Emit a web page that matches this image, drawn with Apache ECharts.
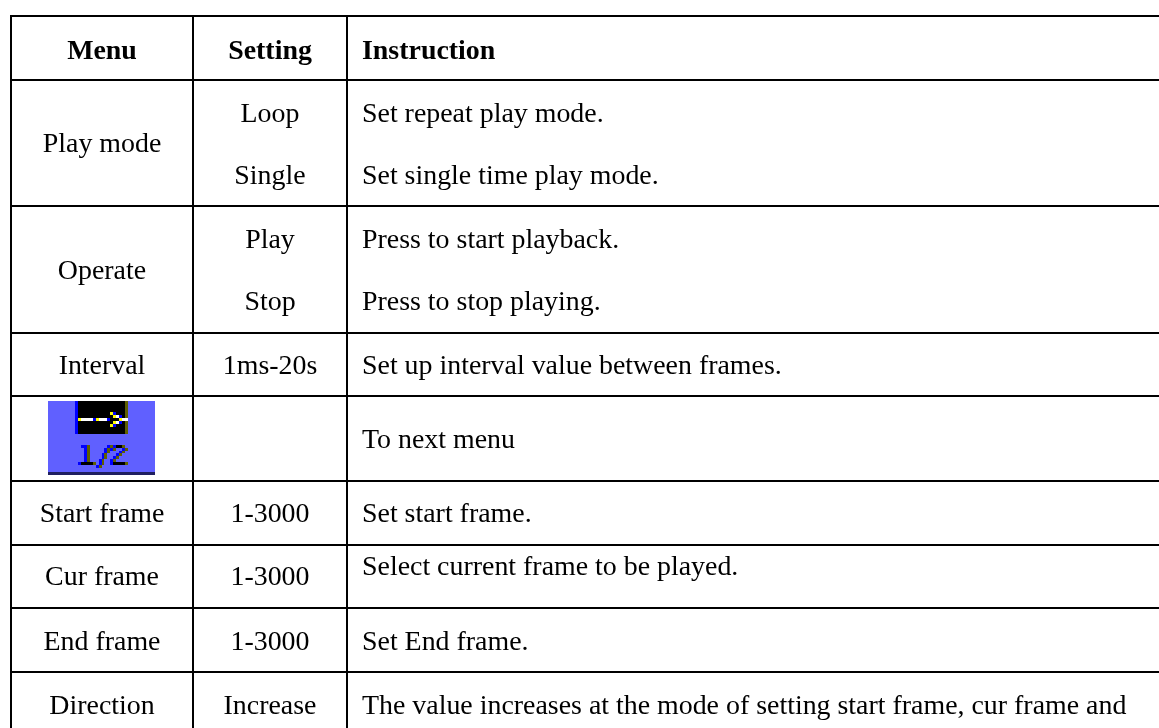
<!DOCTYPE html>
<html>
<head>
<meta charset="utf-8">
<title>Playback menu</title>
<style>
html,body{margin:0;padding:0;background:#fff;}
#main{width:1159px;height:728px;}
</style>
<script src="https://cdn.jsdelivr.net/npm/echarts@6/dist/echarts.min.js"></script>
</head>
<body>
<div id="main"></div>
<script>
var fontFamily='"Liberation Serif","Times New Roman",serif';
var fontSize=27.9;

// table text
var headerLabels=['Menu','Setting','Instruction'];
var menuLabels=['Play mode','Operate','Interval','Start frame','Cur frame','End frame','Direction'];
var settingLabels=['Loop','Single','Play','Stop','1ms-20s','1-3000','1-3000','1-3000','Increase'];
var instructionLabels=[
    'Set repeat play mode.',
    'Set single time play mode.',
    'Press to start playback.',
    'Press to stop playing.',
    'Set up interval value between frames.',
    'To next menu',
    'Set start frame.',
    'Select current frame to be played.',
    'Set End frame.',
    'The value increases at the mode of setting start frame, cur frame and'
];

// layout of the table, in page pixels
var headerX=[102,270,362];
var headerY=51.5;
var menuX=102;
var menuY=[145,271.5,366.5,515,578,643,707];
var settingX=270;
var settingY=[115,177,240.5,303,366.5,515,578,643,707];
var instructionX=362;
var instructionY=[115,177,240.5,303,366.5,440.5,515,568,643,707];
var ruleY=[15,79,205,332,395,480,544,607,671];
var ruleX=[10,192,346];

// the 1/2 menu button
var iconBox=[48,401,107,74];
var iconCell=[107/36,2.96];
var iconOrigin=[48,400.2];
var iconBlocks=[
    [75,401,53,33,'#000000'],
    [75,401,3,33,'#0000ff'],
    [125,401,3,33,'#5f5f00'],
    [48,472,107,3,'#1f1f5f']
];
var arrowRows=[
    '..........................',
    '.....................YB...',
    '......................YWB.',
    '..........YWWWWBYWWWB...YWW',
    '......................YWB.',
    '.....................YB...'
];
var digitRows=[
    '...........BBO......BOBKKO.',
    '............BO.....BOBO..BO',
    '............BO.....BO...BO.',
    '............BO....BO...BO..',
    '............BO....BO..BO...',
    '............BO...BO..BO....',
    '..........BKKKKO.BO..BKKKKO',
    '................BO.........'
];
var pixelColors={B:'#0000ff',O:'#5f5f00',K:'#000000',Y:'#ffff00',W:'#ffffff'};

function pixelsFrom(rows,firstRow){
    var out=[];
    for(var r=0;r<rows.length;r++){
        for(var c=0;c<rows[r].length;c++){
            var k=rows[r].charAt(c);
            if(pixelColors[k]){
                out.push([iconOrigin[0]+c*iconCell[0],iconOrigin[1]+(firstRow+r)*iconCell[1],k]);
            }
        }
    }
    return out;
}
var iconPixels=pixelsFrom(arrowRows,3).concat(pixelsFrom(digitRows,15));

// snapped to whole pixels so the button keeps its hard edges
function rectItem(api,x,y,w,h,fill){
    var a=api.coord([x,y]);
    var b=api.coord([x+w,y+h]);
    var x0=Math.round(a[0]),y0=Math.round(a[1]);
    return {type:'rect',shape:{x:x0,y:y0,width:Math.round(b[0])-x0,height:Math.round(b[1])-y0},style:{fill:fill}};
}
function textSeries(name,points,labels,align,bold){
    return {
        name:name,
        type:'custom',
        silent:true,
        z:3,
        data:points,
        renderItem:function(params,api){
            var p=api.coord([api.value(0),api.value(1)]);
            return {
                type:'text',
                x:p[0],
                y:p[1],
                style:{
                    text:labels[params.dataIndex],
                    fill:'#000',
                    align:align,
                    verticalAlign:'middle',
                    font:(bold?'bold ':'')+fontSize+'px '+fontFamily
                }
            };
        }
    };
}

var chart=echarts.init(document.getElementById('main'),null,{renderer:'canvas'});
var option={
    animation:false,
    backgroundColor:'#ffffff',
    grid:{left:0,right:0,top:0,bottom:0},
    xAxis:{type:'value',min:0,max:1159,show:false},
    yAxis:{type:'value',min:0,max:728,inverse:true,show:false},
    series:[
        {
            name:'rules',
            type:'custom',
            silent:true,
            data:ruleY.map(function(y){return [10,y,1149,2];}).concat(ruleX.map(function(x){return [x,15,2,713];})),
            renderItem:function(params,api){
                return rectItem(api,api.value(0),api.value(1),api.value(2),api.value(3),'#000');
            }
        },
        {
            name:'icon back',
            type:'custom',
            silent:true,
            data:[iconBox],
            renderItem:function(params,api){
                return rectItem(api,api.value(0),api.value(1),api.value(2),api.value(3),'#6060ff');
            }
        },
        {
            name:'icon blocks',
            type:'custom',
            silent:true,
            data:iconBlocks.map(function(b){return b.slice(0,4);}),
            renderItem:function(params,api){
                return rectItem(api,api.value(0),api.value(1),api.value(2),api.value(3),iconBlocks[params.dataIndex][4]);
            }
        },
        {
            name:'icon pixels',
            type:'custom',
            silent:true,
            data:iconPixels.map(function(p){return [p[0],p[1]];}),
            renderItem:function(params,api){
                return rectItem(api,api.value(0),api.value(1),iconCell[0],iconCell[1],pixelColors[iconPixels[params.dataIndex][2]]);
            }
        },
        textSeries('header menu',[[headerX[0],headerY]],[headerLabels[0]],'center',true),
        textSeries('header setting',[[headerX[1],headerY]],[headerLabels[1]],'center',true),
        textSeries('header instruction',[[headerX[2],headerY]],[headerLabels[2]],'left',true),
        textSeries('menu',menuY.map(function(y){return [menuX,y];}),menuLabels,'center',false),
        textSeries('setting',settingY.map(function(y){return [settingX,y];}),settingLabels,'center',false),
        textSeries('instruction',instructionY.map(function(y){return [instructionX,y];}),instructionLabels,'left',false)
    ]
};
chart.setOption(option);
</script>
</body>
</html>
